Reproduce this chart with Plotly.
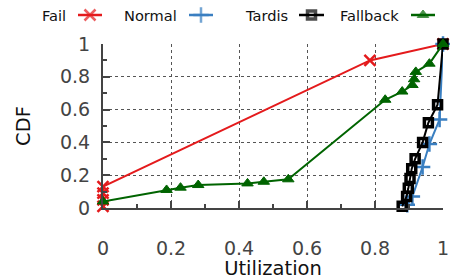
import plotly.graph_objects as go

# ---- data ----
fail_x = [0.0, 0.0, 0.0, 0.0, 0.785, 1.0]
fail_y = [0.01, 0.05, 0.09, 0.13, 0.90, 1.0]

normal_x = [0.895, 0.91, 0.94, 0.96, 0.99, 1.0]
normal_y = [0.02, 0.07, 0.25, 0.39, 0.54, 1.0]

tardis_x = [0.88, 0.893, 0.898, 0.903, 0.908, 0.918, 0.94, 0.957, 0.984, 1.0]
tardis_y = [0.01, 0.07, 0.12, 0.18, 0.24, 0.30, 0.40, 0.52, 0.63, 1.0]

fallback_x = [0.0, 0.187, 0.228, 0.28, 0.425, 0.473, 0.545, 0.83, 0.88, 0.91, 0.915, 0.92, 0.96, 1.0]
fallback_y = [0.04, 0.11, 0.124, 0.14, 0.15, 0.16, 0.175, 0.66, 0.71, 0.75, 0.785, 0.83, 0.88, 1.0]

names = ["Fail", "Normal", "Tardis", "Fallback"]
colors = ["#e41a1c", "#3a7fc1", "#000000", "#006400"]
symbols = ["x-thin", "cross-thin", "square-open", "triangle-up"]
msizes = [11, 11, 8, 10]
mlw = [2.5, 2.5, 3.5, 1]

xticks = [0, 0.2, 0.4, 0.6, 0.8, 1]
xticklabels = ["0", "0.2", "0.4", "0.6", "0.8", "1"]
yticks = [0, 0.2, 0.4, 0.6, 0.8, 1]
yticklabels = ["0", "0.2", "0.4", "0.6", "0.8", "1"]

# ---- layout geometry (pixels) ----
W, H = 450, 280
PX0, PX1, PY_TOP, PY_BOT = 103, 443, 44, 208
# legend layout: text right edge, sample start, sample end
leg_text_right = [68, 179, 290, 401]
leg_sample = [(78, 102), (189, 213), (299, 324), (411, 435)]
leg_y = 15

fig = go.Figure()
series = [(fail_x, fail_y), (normal_x, normal_y), (tardis_x, tardis_y), (fallback_x, fallback_y)]
for i, (xs, ys) in enumerate(series):
    fig.add_trace(go.Scatter(
        x=xs, y=ys, mode="lines+markers", name=names[i],
        line=dict(color=colors[i], width=2),
        marker=dict(symbol=symbols[i], size=msizes[i], color=colors[i],
                    line=dict(color=colors[i], width=mlw[i])),
        cliponaxis=False, showlegend=False))

# custom legend (text then sample), drawn on an overlay axis spanning the page
for i in range(4):
    a, b = leg_sample[i]
    fig.add_trace(go.Scatter(
        x=[a, (a + b) / 2, b], y=[leg_y] * 3, mode="lines+markers",
        xaxis="x2", yaxis="y2",
        line=dict(color=colors[i], width=2.5),
        marker=dict(symbol=symbols[i], size=[0, msizes[i], 0], color=colors[i],
                    line=dict(color=colors[i], width=mlw[i])),
        showlegend=False, hoverinfo="skip", cliponaxis=False))
    fig.add_annotation(x=leg_text_right[i], y=leg_y, xref="x2", yref="y2",
                       text=names[i], showarrow=False, xanchor="right", yanchor="middle",
                       font=dict(size=14.6, color="#111"))

font = "DejaVu Sans"
axis_common = dict(
    range=[0, 1], ticks="inside", ticklen=7, tickwidth=2, tickcolor="#444",
    minor=dict(dtick=0.1, ticks="inside", ticklen=4, tickwidth=2, tickcolor="#444", showgrid=False),
    showline=True, linecolor="#444", linewidth=2,
    showgrid=True, gridcolor="#555", griddash="dot", gridwidth=1,
    zeroline=False, automargin=False, ticklabeloverflow="allow",
    tickfont=dict(family=font, size=19, color="#444"),
)
fig.update_layout(
    template="none",
    width=W, height=H,
    margin=dict(l=0, r=0, t=0, b=0, pad=0),
    paper_bgcolor="white", plot_bgcolor="white",
    font=dict(family=font, size=19, color="#444"),
    showlegend=False,
    hovermode=False,
    xaxis=dict(domain=[PX0 / W, PX1 / W], tickvals=xticks, ticktext=xticklabels,
               ticklabelstandoff=22,
               title=dict(text="Utilization", font=dict(family=font, size=19.5, color="#111"), standoff=2),
               anchor="y", **axis_common),
    yaxis=dict(domain=[(H - PY_BOT) / H, (H - PY_TOP) / H], tickvals=yticks, ticktext=yticklabels,
               ticklabelstandoff=7,
               title=dict(text="CDF", font=dict(family=font, size=19.5, color="#111"), standoff=24),
               anchor="x", **axis_common),
    xaxis2=dict(domain=[0, 1], range=[0, W], visible=False, fixedrange=True, anchor="y2", automargin=False),
    yaxis2=dict(domain=[(H - 32) / H, 1], range=[32, 0], visible=False, fixedrange=True, anchor="x2", automargin=False),
)

fig.write_html("out.html", config={"displayModeBar": False, "staticPlot": True},
               post_script="document.body.style.margin='0';document.body.style.overflow='hidden';")
